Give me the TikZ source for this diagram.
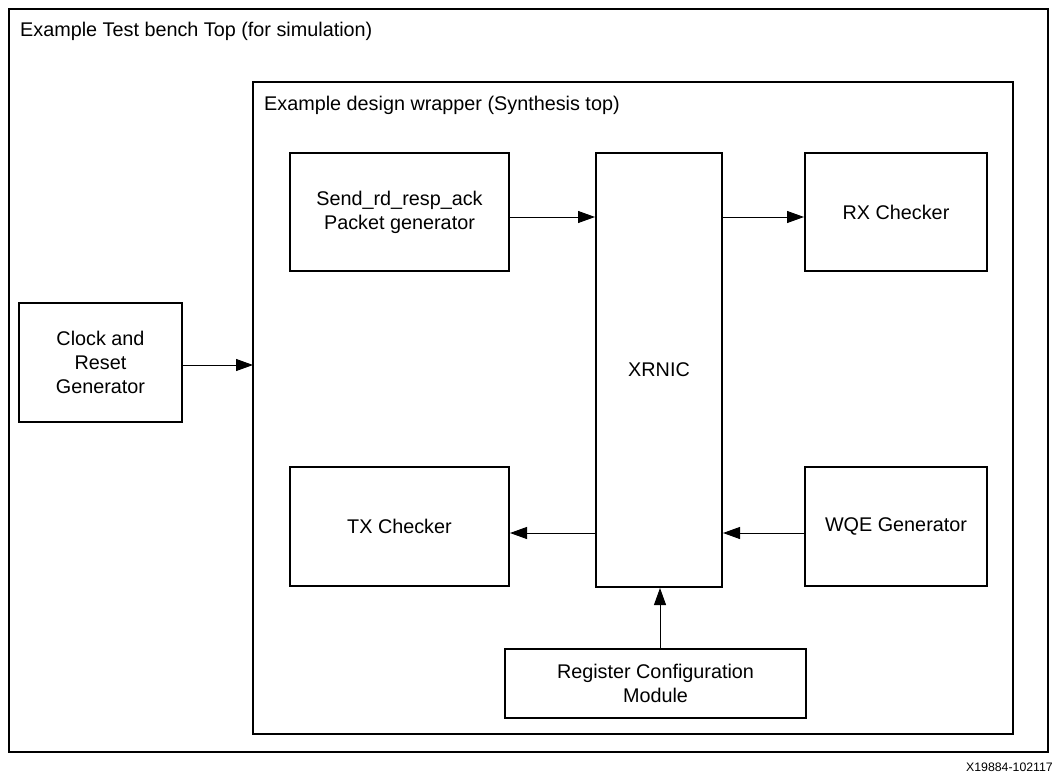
\documentclass[tikz,border=0pt]{standalone}
\usepackage{fontspec}
\setmainfont{Liberation Sans}
\usetikzlibrary{arrows.meta}
\begin{document}
\begin{tikzpicture}[x=1pt,y=-1pt,
  every node/.style={font=\fontsize{19.8}{24}\selectfont, inner sep=0pt},
  blk/.style={draw, line width=2pt, align=center},
  thinblk/.style={draw, line width=1.4pt, align=center},
  frame/.style={draw, line width=2pt},
  conn/.style={line width=1pt, -{Triangle[length=17pt,width=12pt]}}]
\useasboundingbox (0,0) rectangle (1055,773);
\draw[frame] (9,9) rectangle (1048,752);
\node[anchor=base west] (ttop) at (20,37) {Example Test bench Top (for simulation)};
\draw[frame] (253,82) rectangle (1013,734);
\node[anchor=base west] (twrap) at (264,111) {Example design wrapper (Synthesis top)};
% blocks
\node[blk, minimum width=163pt, minimum height=119pt] (clk) at (100.5,362.5) {Clock and\\Reset\\Generator};
\coordinate (wrapin) at (253,365);
\node[blk, minimum width=219pt, minimum height=118pt] (send) at (399.5,212) {Send\_rd\_resp\_ack\\Packet generator};
\node[blk, minimum width=126pt, minimum height=434pt] (xrnic) at (659,370) {XRNIC};
\node[blk, minimum width=182pt, minimum height=118pt] (rx) at (896,212) {RX Checker};
\node[blk, minimum width=219pt, minimum height=119pt] (tx) at (399.5,526.5) {TX Checker};
\node[blk, minimum width=182pt, minimum height=119pt] (wqe) at (896,526.5) {WQE Generator};
\node[thinblk, minimum width=301pt, minimum height=69pt] (reg) at (655.5,683.5) {Register Configuration\\Module};
% connectors
\draw[conn] (clk.east |- wrapin) -- (wrapin);
\draw[conn] (send.east |- 0,217) -- (xrnic.west |- 0,217);
\draw[conn] (xrnic.east |- 0,217) -- (rx.west |- 0,217);
\draw[conn] (xrnic.west |- 0,533) -- (tx.east |- 0,533);
\draw[conn] (wqe.west |- 0,533) -- (xrnic.east |- 0,533);
\draw[conn] (reg.north -| 660,0) -- (xrnic.south -| 660,0);
\node[anchor=base east, font=\fontsize{12.3}{14}\selectfont] (fig) at (1053,771) {X19884-102117};
\end{tikzpicture}
\end{document}
